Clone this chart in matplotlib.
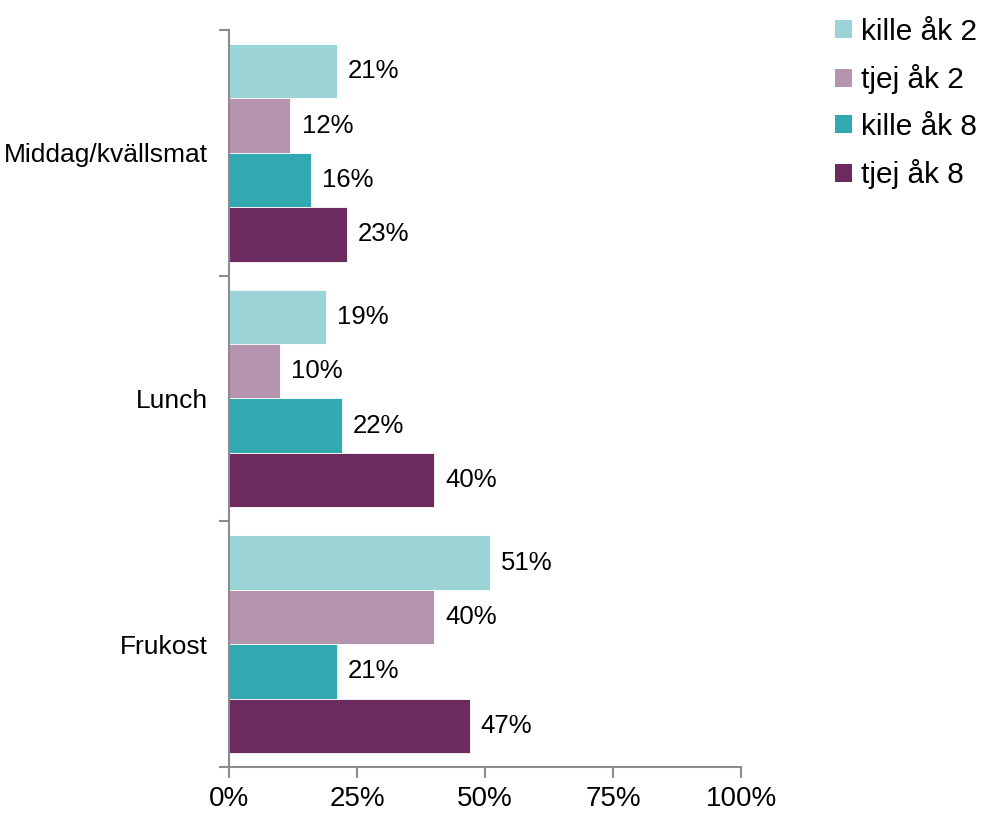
import matplotlib
matplotlib.use("Agg")
from matplotlib import pyplot as plt
from matplotlib.patches import Patch
import numpy as np

# Måltider (nedifrån och upp) och andel per grupp i procent
categories = ["Frukost", "Lunch", "Middag/kvällsmat"]
series_names = ["kille åk 2", "tjej åk 2", "kille åk 8", "tjej åk 8"]
kille_ak2 = [51, 19, 21]
tjej_ak2 = [40, 10, 12]
kille_ak8 = [21, 22, 16]
tjej_ak8 = [47, 40, 23]
series_values = [kille_ak2, tjej_ak2, kille_ak8, tjej_ak8]
colors = ["#9BD3D7", "#B594AF", "#32A8B0", "#6B2B5E"]
xticks = [0, 25, 50, 75, 100]

plt.rcParams["font.family"] = ["Liberation Sans", "DejaVu Sans"]

fig = plt.figure(figsize=(9.86, 8.14), dpi=100)
ax = fig.add_axes([0.2323, 0.0577, 0.5193, 0.9055])

y = np.arange(len(categories))
h = 0.886 / 4
for i, (name, vals, c) in enumerate(zip(series_names, series_values, colors)):
    # första serien överst i varje grupp
    off = (1.5 - i) * h
    bars = ax.barh(y + off, vals, height=h, color=c, edgecolor="white",
                   linewidth=0.6, label=name)
    ax.bar_label(bars, labels=[f"{v}%" for v in vals], padding=8, fontsize=18.5)

ax.set_xlim(0, 100)
ax.set_ylim(-0.5, len(categories) - 0.5)
ax.set_xticks(xticks)
ax.set_xticklabels([f"{t}%" for t in xticks], fontsize=20)
ax.set_yticks(y)
ax.set_yticklabels(categories, fontsize=19)
ax.set_yticks(np.arange(-0.5, len(categories)), minor=True)

axis_grey = "#8C8C8C"
for s in ["top", "right"]:
    ax.spines[s].set_visible(False)
for s in ["left", "bottom"]:
    ax.spines[s].set_color(axis_grey)
    ax.spines[s].set_linewidth(1.5)
ax.tick_params(axis="x", direction="out", length=8, width=1.5, color=axis_grey, pad=6)
ax.tick_params(axis="y", which="major", length=0, pad=15)
ax.tick_params(axis="y", which="minor", direction="out", length=7, width=1.5, color=axis_grey)

handles = [Patch(facecolor=c, edgecolor="none") for c in colors]
fig.legend(handles, series_names, loc="upper left", bbox_to_anchor=(0.826, 1.004),
           frameon=False, fontsize=21.5, handlelength=0.56, handleheight=0.56,
           handletextpad=0.3, labelspacing=0.62, borderaxespad=0.3)

fig.savefig("out.png", dpi=100)
